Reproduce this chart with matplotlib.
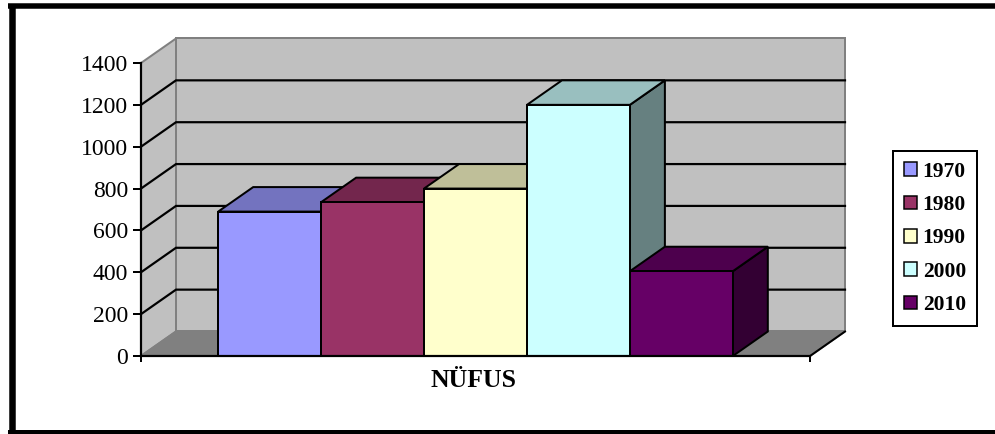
import matplotlib
matplotlib.use("Agg")
import matplotlib.pyplot as plt
from matplotlib.patches import Polygon, Rectangle, Patch
from matplotlib.lines import Line2D
import matplotlib.colors as mcolors

# ---- data ----
category = "NÜFUS"
series_labels = ["1970", "1980", "1990", "2000", "2010"]
values = [690, 735, 800, 1200, 405]
colors = ["#9999ff", "#993366", "#ffffcc", "#ccffff", "#660066"]
yticks = [0, 200, 400, 600, 800, 1000, 1200, 1400]

# ---- layout (pixels of a 995x434 canvas) ----
W, H = 995, 434
FX0, FX1 = 141, 810      # front plane x extent
FY0, FY1 = 356, 63       # front plane y for 0 and 1400
DXP, DYP = 35, 24.5      # depth offset in pixels
XMAX = 6.5
YMAX = 1400
BAR_START = 0.75

plt.rcParams['font.family'] = ['Liberation Serif', 'DejaVu Serif']

fig = plt.figure(figsize=((W + 0.01) / 100, (H + 0.01) / 100), dpi=100)
ax = fig.add_axes([FX0 / W, (H - FY0) / H, (FX1 - FX0) / W, (FY0 - FY1) / H])
ax.set_xlim(0, XMAX)
ax.set_ylim(0, YMAX)

pxx = (FX1 - FX0) / XMAX
pxy = (FY0 - FY1) / YMAX
DX = DXP / pxx
DY = DYP / pxy

wall = "#c0c0c0"
edge_gray = "#808080"
floor = "#808080"
lw_px = 0.72  # points per pixel

# walls
ax.add_patch(Polygon([(DX, DY), (XMAX + DX, DY), (XMAX + DX, YMAX + DY), (DX, YMAX + DY)],
                     closed=True, facecolor=wall, edgecolor=edge_gray, lw=2 * lw_px,
                     clip_on=False, zorder=0))
ax.add_patch(Polygon([(0, 0), (DX, DY), (DX, YMAX + DY), (0, YMAX)],
                     closed=True, facecolor=wall, edgecolor=edge_gray, lw=2 * lw_px,
                     clip_on=False, zorder=0))
ax.add_patch(Polygon([(0, 0), (XMAX, 0), (XMAX + DX, DY), (DX, DY)],
                     closed=True, facecolor=floor, edgecolor=edge_gray, lw=2 * lw_px,
                     clip_on=False, zorder=0.5))
ax.add_line(Line2D([XMAX, XMAX + DX], [0, DY], color="black", lw=2 * lw_px,
                   clip_on=False, zorder=0.6))

# gridlines
for v in yticks[1:-1]:
    ax.add_line(Line2D([0, DX, XMAX + DX], [v, v + DY, v + DY], color="black",
                       lw=2.2 * lw_px, clip_on=False, zorder=1, solid_joinstyle="miter"))


def shade(c, f):
    r, g, b = mcolors.to_rgb(c)
    return (r * f, g * f, b * f)


# bars
for i, (val, col) in enumerate(zip(values, colors)):
    x0 = BAR_START + i
    x1 = x0 + 1
    z = 2 + i
    ekw = dict(edgecolor="black", lw=2 * lw_px, clip_on=False, zorder=z, joinstyle="miter")
    ax.add_patch(Polygon([(x1, 0), (x1 + DX, DY), (x1 + DX, val + DY), (x1, val)],
                         closed=True, facecolor=shade(col, 0.5), **ekw))
    ax.add_patch(Polygon([(x0, val), (x1, val), (x1 + DX, val + DY), (x0 + DX, val + DY)],
                         closed=True, facecolor=shade(col, 0.75), **ekw))
    ax.add_patch(Rectangle((x0, 0), 1, val, facecolor=col, **ekw))

# axes styling
for s in ["top", "right"]:
    ax.spines[s].set_visible(False)
for s in ["left", "bottom"]:
    ax.spines[s].set_linewidth(2.2 * lw_px)
    ax.spines[s].set_zorder(20)
    ax.spines[s].set_color("black")
ax.set_facecolor("none")
ax.set_yticks(yticks)
ax.set_yticklabels([str(t) for t in yticks])
ax.tick_params(axis="y", direction="out", length=8 * lw_px, width=2 * lw_px,
               pad=5 * lw_px, labelsize=17)
ax.set_xticks([0, XMAX])
ax.set_xticklabels(["", ""])
ax.tick_params(axis="x", direction="out", length=6 * lw_px, width=2 * lw_px, pad=0)
ax.set_xlabel(category, fontsize=18.5, fontweight="bold", labelpad=5)
ax.xaxis.label.set_x(0.497)

# legend
handles = [Patch(facecolor=c, edgecolor="black", lw=1.5 * lw_px) for c in colors]
leg = fig.legend(handles, series_labels, loc="upper left",
                 bbox_to_anchor=(893 / W, 1 - 151 / H), borderaxespad=0,
                 prop=dict(family="Liberation Serif", weight="bold", size=15.5),
                 fancybox=False, framealpha=1, edgecolor="black",
                 handlelength=0.6, handleheight=0.6, handletextpad=0.28,
                 labelspacing=0.62, borderpad=0.5)
leg.get_frame().set_linewidth(2 * lw_px)

# outer frame (left, top, bottom edges; right side runs off the canvas)
fx = lambda p: p / W
fy = lambda p: 1 - p / H
fig.add_artist(Line2D([fx(11.5), fx(11.5)], [fy(4), fy(434)], transform=fig.transFigure,
                      color="black", lw=6.5 * lw_px, solid_capstyle="butt"))
fig.add_artist(Line2D([fx(8.25), fx(995)], [fy(6.5), fy(6.5)], transform=fig.transFigure,
                      color="black", lw=5.5 * lw_px, solid_capstyle="butt"))
fig.add_artist(Line2D([fx(8.25), fx(995)], [fy(432.5), fy(432.5)], transform=fig.transFigure,
                      color="black", lw=4 * lw_px, solid_capstyle="butt"))

fig.savefig("out.png", dpi=100)
